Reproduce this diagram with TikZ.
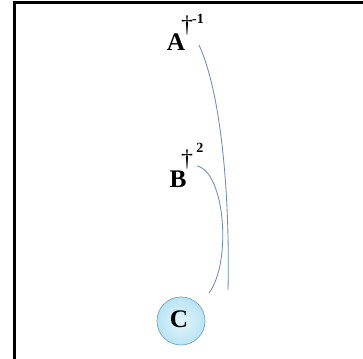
\documentclass[tikz,border=0pt]{standalone}
\usepackage{fontspec}
\setmainfont{Liberation Serif}
\usepackage{tikz}
\usepackage{xcolor}
\usetikzlibrary{positioning}
\definecolor{curveblue}{RGB}{110,140,180}
\definecolor{ballblue}{RGB}{185,228,244}
\definecolor{balledge}{RGB}{120,165,195}

\begin{document}
\begin{tikzpicture}[
		x=0.25mm, y=-0.25mm,
		letter/.style={inner sep=0pt, font=\fontsize{18}{20}\selectfont\bfseries},
		dag/.style={inner sep=0pt, font=\fontsize{17}{19}\selectfont},
		expo/.style={inner sep=0pt, font=\fontsize{10}{12}\selectfont\bfseries},
		ball/.style={circle, draw=balledge, line width=0.5pt, inner color=white!60!ballblue,
			outer color=ballblue, minimum size=12mm, inner sep=0pt},
		link/.style={draw=curveblue, line width=0.6pt}
	]
		\useasboundingbox (0,0) rectangle (363,359);
		% frame
		\draw[line width=0.75mm] (14,359) -- (14,3) -- (363,3);

		\node[letter] (A) at (176,42) {A};
		\node[dag] (Adag) at (187,26) {†};
		\node[expo] (Aexp) at (198,19) {-1};

		\node[letter] (B) at (178,179) {B};
		\node[dag] (Bdag) at (187,160) {†};
		\node[expo] (Bexp) at (200,148) {2};

		\node[ball] (C) at (181,321) {};
		\node[letter] (Ctext) at (179,319) {C};

		\coordinate (aend) at (228,290);
		\coordinate (bend) at (209,293);
		\draw[link] ([xshift=5.75mm,yshift=-0.75mm]A.center) .. controls (222,95) and (230,200) .. (aend);
		\draw[link] ([xshift=4.75mm,yshift=3.25mm]B.center) .. controls (225,172) and (232,262) .. (bend);
	\end{tikzpicture}
\end{document}
